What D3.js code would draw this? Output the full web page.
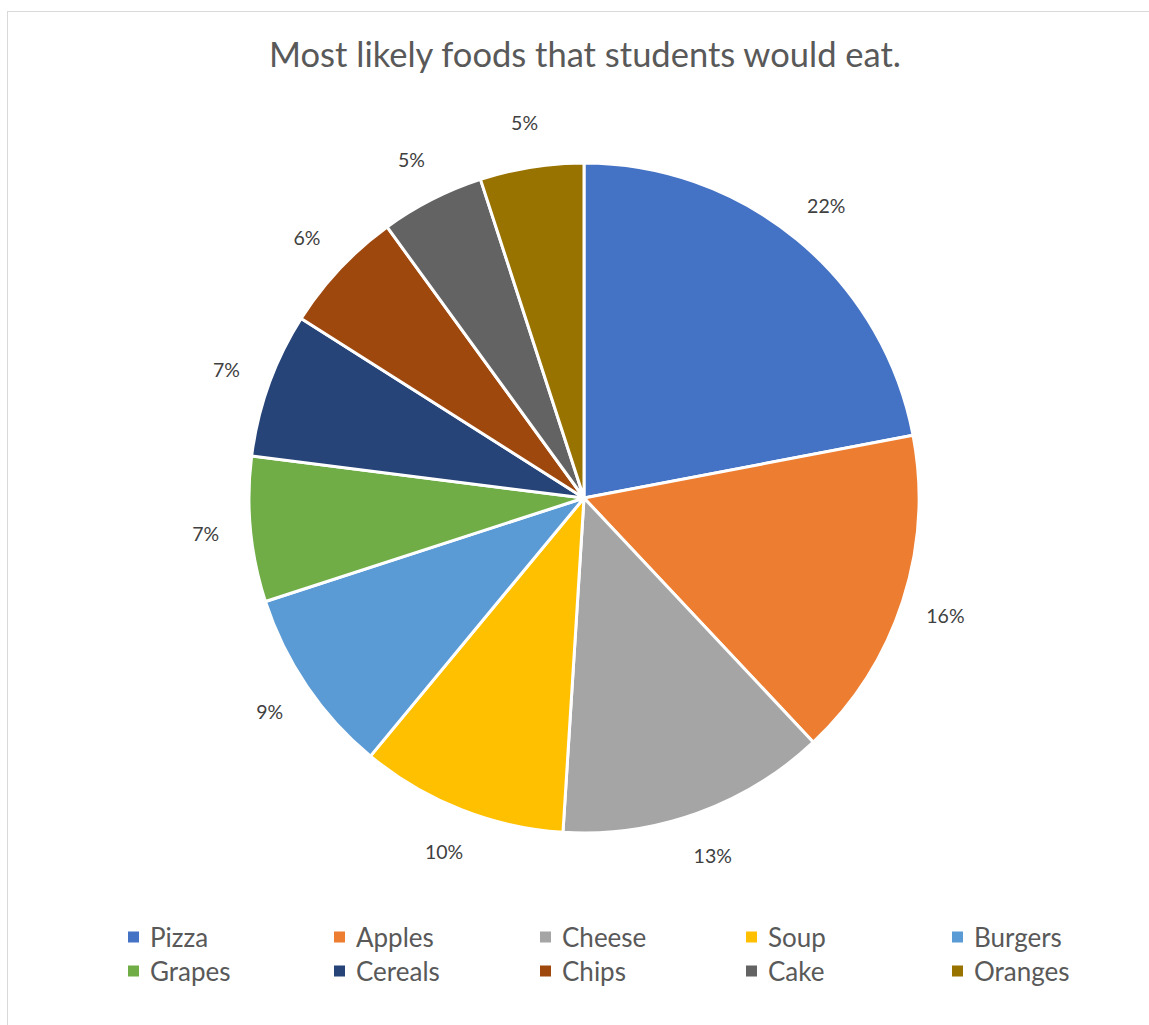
<!DOCTYPE html>
<html>
<head>
<meta charset="utf-8">
<script src="https://cdn.jsdelivr.net/npm/d3@7"></script>
<style>
  html, body { margin: 0; padding: 0; background: #fff; }
  svg { display: block; }
</style>
</head>
<body>
<svg id="chart" width="1149" height="1025"></svg>
<script>
// Share of students choosing each food (percent)
const foods = ["Pizza", "Apples", "Cheese", "Soup", "Burgers", "Grapes", "Cereals", "Chips", "Cake", "Oranges"];
const shares = [22, 16, 13, 10, 9, 7, 7, 6, 5, 5];
const colors = ["#4472C4", "#ED7D31", "#A5A5A5", "#FFC000", "#5B9BD5", "#70AD47", "#264478", "#9E480E", "#636363", "#997300"];
const titleText = "Most likely foods that students would eat.";

const FONT = "Lato, 'Open Sans', sans-serif";
const svg = d3.select("#chart");

// chart area border
svg.append("rect")
  .attr("x", 7.5).attr("y", 11.5)
  .attr("width", 1160).attr("height", 1040)
  .attr("fill", "#fff").attr("stroke", "#d9d9d9").attr("stroke-width", 1);

svg.append("text")
  .attr("x", 585).attr("y", 67)
  .attr("text-anchor", "middle")
  .attr("font-family", FONT).attr("font-size", 34.5)
  .attr("fill", "#595959")
  .text(titleText);

const cx = 584, cy = 498, radius = 335, labelRadius = 380;
const data = foods.map((f, i) => ({ name: f, value: shares[i], color: colors[i] }));
const total = d3.sum(shares);

const pie = d3.pie().value(d => d.value).sort(null);
const arc = d3.arc().innerRadius(0).outerRadius(radius);
const labelArc = d3.arc().innerRadius(labelRadius).outerRadius(labelRadius);

const g = svg.append("g").attr("transform", `translate(${cx},${cy})`);
const arcs = pie(data);

g.selectAll("path.slice").data(arcs).join("path")
  .attr("class", "slice")
  .attr("d", arc)
  .attr("fill", d => d.data.color)
  .attr("stroke", "#fff").attr("stroke-width", 3)
  .attr("stroke-linejoin", "round");

g.selectAll("text.pct").data(arcs).join("text")
  .attr("class", "pct")
  .attr("transform", d => `translate(${labelArc.centroid(d)})`)
  .attr("text-anchor", "middle")
  .attr("dominant-baseline", "central")
  .attr("font-family", FONT).attr("font-size", 19.5)
  .attr("fill", "#404040")
  .text(d => Math.round(d.data.value / total * 100) + "%");

// legend: two rows of five
const colX = d3.scalePoint().domain(d3.range(5)).range([128, 952]);
const rowY = d3.scalePoint().domain([0, 1]).range([937, 971]);
const legend = svg.append("g");
const items = legend.selectAll("g").data(data).join("g")
  .attr("transform", (d, i) => `translate(${colX(i % 5)},${rowY(Math.floor(i / 5))})`);
items.append("rect")
  .attr("x", 0).attr("y", -5.5).attr("width", 11).attr("height", 11)
  .attr("fill", d => d.color);
items.append("text")
  .attr("x", 22).attr("y", 0)
  .attr("dominant-baseline", "central")
  .attr("font-family", FONT).attr("font-size", 26)
  .attr("fill", "#595959")
  .text(d => d.name);
</script>
</body>
</html>
